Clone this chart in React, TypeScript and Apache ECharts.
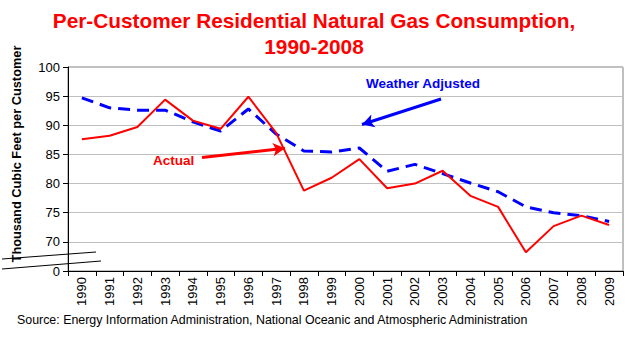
import React, { useEffect, useRef } from "react";
import * as echarts from "echarts";

const years = ["1990","1991","1992","1993","1994","1995","1996","1997","1998","1999","2000","2001","2002","2003","2004","2005","2006","2007","2008","2009"];
const actual = [87.6, 88.2, 89.7, 94.4, 90.8, 89.4, 94.9, 88.7, 78.8, 81.0, 84.2, 79.2, 80.0, 82.2, 77.9, 76.0, 68.2, 72.7, 74.5, 72.9];
const weatherAdjusted = [94.7, 93.0, 92.6, 92.6, 90.6, 89.0, 92.8, 88.5, 85.6, 85.4, 86.1, 82.1, 83.3, 81.7, 80.1, 78.6, 76.0, 75.0, 74.5, 73.5];
const yMin = 65;
const yMax = 100;
const yStep = 5;
const brokenAxisLabel = "0";

const FONT = "'Liberation Sans', Arial, sans-serif";
const RED = "#ff0000";
const BLUE = "#0000ff";

export default function App() {
  const ref = useRef<HTMLDivElement>(null);
  useEffect(() => {
    if (!ref.current) return;
    const chart = echarts.init(ref.current, undefined, { renderer: "svg" });
    chart.setOption({
      animation: false,
      backgroundColor: "#ffffff",
      textStyle: { fontFamily: FONT },
      grid: { left: 68, right: 6, top: 67, bottom: 74, show: true, borderColor: "#808080", borderWidth: 1 },
      xAxis: {
        type: "category",
        data: years,
        boundaryGap: true,
        axisLine: { lineStyle: { color: "#000", width: 1 } },
        axisTick: { show: true, length: 5, interval: 0, lineStyle: { color: "#000" } },
        axisLabel: { rotate: 90, interval: 0, fontSize: 13, color: "#000", margin: 6, fontFamily: FONT },
        splitLine: { show: false },
      },
      yAxis: {
        type: "value",
        min: yMin,
        max: yMax,
        interval: yStep,
        axisLine: { show: true, lineStyle: { color: "#000", width: 1 } },
        axisTick: { show: true, length: 5, lineStyle: { color: "#000" } },
        axisLabel: {
          fontSize: 13,
          color: "#000",
          margin: 8,
          fontFamily: FONT,
          formatter: (v: number) => (v === yMin ? brokenAxisLabel : String(v)),
        },
        splitLine: { show: true, lineStyle: { color: "#c0c0c0", width: 1 } },
      },
      series: [
        {
          name: "Weather Adjusted",
          type: "line",
          data: weatherAdjusted,
          symbol: "none",
          lineStyle: { color: BLUE, width: 3, type: [12, 7] },
          z: 2,
          markLine: {
            silent: true,
            symbol: ["none", "arrow"],
            symbolSize: [10, 12],
            label: { show: false },
            lineStyle: { color: BLUE, width: 3, type: "solid" },
            data: [[{ x: 441, y: 99 }, { x: 362, y: 124.5 }]],
          },
        },
        {
          name: "Actual",
          type: "line",
          data: actual,
          symbol: "none",
          lineStyle: { color: RED, width: 2 },
          z: 3,
          markLine: {
            silent: true,
            symbol: ["none", "arrow"],
            symbolSize: [10, 12],
            label: { show: false },
            lineStyle: { color: RED, width: 3, type: "solid" },
            data: [[{ x: 202, y: 157.5 }, { x: 285, y: 148.2 }]],
          },
        },
      ],
      graphic: [
        {
          type: "text",
          x: 314,
          y: 7,
          style: {
            text: "Per-Customer Residential Natural Gas Consumption,\n1990-2008",
            fill: RED,
            font: `bold 20.8px ${FONT}`,
            align: "center",
            verticalAlign: "top",
            lineHeight: 26,
          },
        },
        {
          type: "text",
          x: 16,
          y: 154,
          rotation: Math.PI / 2,
          style: {
            text: "Thousand Cubic Feet per Customer",
            fill: "#000",
            font: `bold 12.8px ${FONT}`,
            align: "center",
            verticalAlign: "middle",
          },
        },
        {
          type: "text",
          left: 366,
          top: 76,
          style: { text: "Weather Adjusted", fill: BLUE, font: `bold 13.5px ${FONT}` },
        },
        {
          type: "text",
          left: 153,
          top: 153,
          style: { text: "Actual", fill: RED, font: `bold 13.5px ${FONT}` },
        },
        {
          type: "line",
          shape: { x1: 2, y1: 259, x2: 96, y2: 252 },
          style: { stroke: "#000", lineWidth: 1 },
        },
        {
          type: "line",
          shape: { x1: 2, y1: 269, x2: 101, y2: 261 },
          style: { stroke: "#000", lineWidth: 1 },
        },
        {
          type: "text",
          left: 17,
          top: 314,
          style: {
            text: "Source: Energy Information Administration, National Oceanic and Atmospheric Administration",
            fill: "#000",
            font: `12.4px ${FONT}`,
          },
        },
      ],
    });
    return () => chart.dispose();
  }, []);
  return (
    <div
      ref={ref}
      style={{ position: "absolute", left: 0, top: 0, width: 629, height: 345, background: "#fff" }}
    />
  );
}
